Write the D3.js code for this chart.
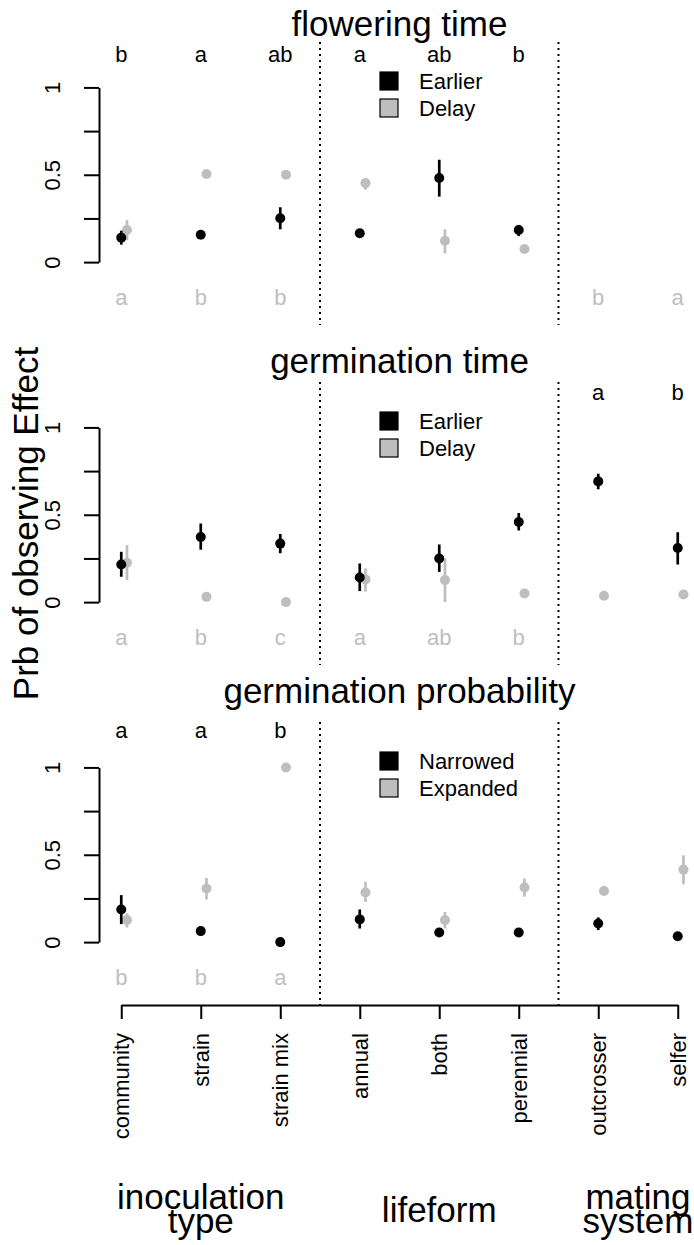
<!DOCTYPE html>
<html>
<head>
<meta charset="utf-8">
<script src="https://d3js.org/d3.v7.min.js"></script>
<style>
body { margin: 0; background: #fff; }
svg { display: block; font-family: "Liberation Sans", Arial, Helvetica, sans-serif; }
</style>
</head>
<body>
<svg id="chart" width="694" height="1245"></svg>
<script>
// categories along the x axis, and the groups they belong to
var categories = ["community", "strain", "strain mix", "annual", "both", "perennial", "outcrosser", "selfer"];
var groupLabels = [["inoculation", "type"], ["lifeform"], ["mating", "system"]];
var groupCenters = [2, 5, 7.5];
var groupBreaks = [3.5, 6.5];

var yTicks = [0, 0.25, 0.5, 0.75, 1];
var yTickLabels = ["0", "", "0.5", "", "1"];

var titles = ["flowering time", "germination time", "germination probability"];
var legendLabels = [["Earlier", "Delay"], ["Earlier", "Delay"], ["Narrowed", "Expanded"]];

// flowering time
var flowerEarlier   = [0.14, 0.157, 0.251, 0.165, 0.481, 0.184, null, null];
var flowerEarlierLo = [0.10, 0.145, 0.188, 0.152, 0.375, 0.149, null, null];
var flowerEarlierHi = [0.18, 0.170, 0.314, 0.178, 0.586, 0.213, null, null];
var flowerDelay     = [0.184, 0.504, 0.50, 0.452, 0.122, 0.075, null, null];
var flowerDelayLo   = [0.126, 0.494, 0.49, 0.414, 0.050, 0.065, null, null];
var flowerDelayHi   = [0.240, 0.514, 0.51, 0.481, 0.188, 0.085, null, null];
var flowerTop    = ["b", "a", "ab", "a", "ab", "b", "", ""];
var flowerBottom = ["a", "b", "b", "", "", "", "b", "a"];

// germination time
var germTimeEarlier   = [0.215, 0.373, 0.335, 0.141, 0.250, 0.459, 0.691, 0.310];
var germTimeEarlierLo = [0.145, 0.300, 0.280, 0.063, 0.173, 0.410, 0.646, 0.215];
var germTimeEarlierHi = [0.288, 0.450, 0.390, 0.221, 0.330, 0.510, 0.735, 0.400];
var germTimeDelay     = [0.225, 0.030, 0.000, 0.130, 0.126, 0.050, 0.036, 0.044];
var germTimeDelayLo   = [0.126, 0.020, 0.000, 0.060, 0.000, 0.040, 0.026, 0.034];
var germTimeDelayHi   = [0.326, 0.040, 0.010, 0.193, 0.250, 0.060, 0.046, 0.054];
var germTimeTop    = ["", "", "", "", "", "", "a", "b"];
var germTimeBottom = ["a", "b", "c", "a", "ab", "b", "", ""];

// germination probability
var germProbNarrowed   = [0.187, 0.063, 0.000, 0.130, 0.055, 0.055, 0.107, 0.034];
var germProbNarrowedLo = [0.103, 0.053, 0.000, 0.078, 0.045, 0.045, 0.069, 0.024];
var germProbNarrowedHi = [0.269, 0.073, 0.010, 0.187, 0.065, 0.065, 0.141, 0.044];
var germProbExpanded   = [0.126, 0.307, 1.000, 0.284, 0.126, 0.313, 0.293, 0.415];
var germProbExpandedLo = [0.084, 0.244, 0.990, 0.230, 0.078, 0.260, 0.283, 0.331];
var germProbExpandedHi = [0.164, 0.367, 1.000, 0.345, 0.173, 0.364, 0.303, 0.497];
var germProbTop    = ["a", "a", "b", "", "", "", "", ""];
var germProbBottom = ["b", "b", "a", "", "", "", "", ""];

var panels = [
  { black: [flowerEarlier, flowerEarlierLo, flowerEarlierHi], gray: [flowerDelay, flowerDelayLo, flowerDelayHi], top: flowerTop, bottom: flowerBottom },
  { black: [germTimeEarlier, germTimeEarlierLo, germTimeEarlierHi], gray: [germTimeDelay, germTimeDelayLo, germTimeDelayHi], top: germTimeTop, bottom: germTimeBottom },
  { black: [germProbNarrowed, germProbNarrowedLo, germProbNarrowedHi], gray: [germProbExpanded, germProbExpandedLo, germProbExpandedHi], top: germProbTop, bottom: germProbBottom }
];

var gray = "#bebebe";
var panelTops = [42, 382, 722], panelH = 283;
var titleY = [36, 373, 703];
var topLetterY = [62, 400, 738];
var bottomLetterY = [305, 645, 985];
var grayShift = 0.072;

var svg = d3.select("#chart");
var x = d3.scaleLinear().domain([0.72, 8.28]).range([99, 700]);

panels.forEach(function(p, k) {
  var top = panelTops[k];
  var y = d3.scaleLinear().domain([-0.36, 1.26]).range([top + panelH, top]);
  var g = svg.append("g");

  g.append("text")
    .attr("x", (x.range()[0] + x.range()[1]) / 2)
    .attr("y", titleY[k])
    .attr("text-anchor", "middle")
    .attr("font-size", 35)
    .text(titles[k]);

  groupBreaks.forEach(function(b) {
    g.append("line")
      .attr("x1", x(b)).attr("x2", x(b))
      .attr("y1", y(1.26)).attr("y2", y(-0.36))
      .attr("stroke", "#000")
      .attr("stroke-width", 2)
      .attr("stroke-dasharray", "2,4");
  });

  // y axis only from 0 to 1
  var ya = y.copy().domain([0, 1]).range([y(0), y(1)]);
  var ax = g.append("g")
    .attr("transform", "translate(" + x.range()[0] + ",0)")
    .call(d3.axisLeft(ya).tickValues(yTicks).tickSize(15).tickSizeOuter(0)
      .tickFormat(function(d, i) { return yTickLabels[i]; }));
  ax.attr("font-size", 22).attr("font-family", null);
  ax.selectAll("path, line").attr("stroke", "#000").attr("stroke-width", 2);
  ax.selectAll("text")
    .attr("x", 0).attr("dy", null)
    .attr("fill", "#000")
    .attr("text-anchor", "middle")
    .attr("transform", "translate(-39,0) rotate(-90)");

  // legend
  legendLabels[k].forEach(function(lab, i) {
    var cy = top + 39 + i * 27;
    g.append("rect")
      .attr("x", 380).attr("y", cy - 9)
      .attr("width", 18).attr("height", 18)
      .attr("fill", i === 0 ? "#000" : gray)
      .attr("stroke", "#000").attr("stroke-width", 1.2);
    g.append("text")
      .attr("x", 419).attr("y", cy)
      .attr("dominant-baseline", "central")
      .attr("font-size", 22)
      .text(lab);
  });

  // letters above (black) and below (gray)
  p.top.forEach(function(l, i) {
    if (!l) return;
    g.append("text").attr("x", x(i + 1)).attr("y", topLetterY[k])
      .attr("text-anchor", "middle").attr("font-size", 22).text(l);
  });
  p.bottom.forEach(function(l, i) {
    if (!l) return;
    g.append("text").attr("x", x(i + 1)).attr("y", bottomLetterY[k])
      .attr("text-anchor", "middle").attr("font-size", 22).attr("fill", gray).text(l);
  });

  // series: gray first, black on top
  [[p.gray, gray, grayShift], [p.black, "#000", 0]].forEach(function(s) {
    var mean = s[0][0], lo = s[0][1], hi = s[0][2], col = s[1], dx = s[2];
    var pts = mean.map(function(v, i) { return { i: i + 1, v: v, lo: lo[i], hi: hi[i] }; })
      .filter(function(d) { return d.v !== null; });
    g.selectAll(null).data(pts).enter().append("line")
      .attr("x1", function(d) { return x(d.i + dx); })
      .attr("x2", function(d) { return x(d.i + dx); })
      .attr("y1", function(d) { return y(d.lo); })
      .attr("y2", function(d) { return y(d.hi); })
      .attr("stroke", col).attr("stroke-width", 2.7);
    g.selectAll(null).data(pts).enter().append("circle")
      .attr("cx", function(d) { return x(d.i + dx); })
      .attr("cy", function(d) { return y(d.v); })
      .attr("r", 5)
      .attr("fill", col);
  });

  if (k === 2) {
    var xa = x.copy().domain([1, 8]).range([x(1), x(8)]);
    var bx = g.append("g")
      .attr("transform", "translate(0," + (top + panelH) + ")")
      .call(d3.axisBottom(xa).tickValues(d3.range(1, 9)).tickSize(14).tickSizeOuter(0)
        .tickFormat(function(d) { return categories[d - 1]; }));
    bx.attr("font-size", 22).attr("font-family", null);
    bx.selectAll("path, line").attr("stroke", "#000").attr("stroke-width", 2);
    bx.selectAll("text")
      .attr("y", 0).attr("dy", null)
      .attr("fill", "#000")
      .attr("text-anchor", "end")
      .attr("dominant-baseline", "central")
      .attr("transform", "translate(0,28) rotate(-90)");
  }
});

// y axis title, centred on the middle panel
svg.append("text")
  .attr("transform", "translate(38," + (panelTops[1] + panelH / 2) + ") rotate(-90)")
  .attr("text-anchor", "middle")
  .attr("font-size", 35)
  .text("Prb of observing Effect");

// group labels under the x axis (tight line spacing as in the original)
groupLabels.forEach(function(lines, i) {
  var t = svg.append("text")
    .attr("text-anchor", "middle")
    .attr("font-size", 35);
  var y0 = lines.length === 1 ? 1222 : 1209;
  lines.forEach(function(s, j) {
    t.append("tspan").attr("x", x(groupCenters[i])).attr("y", y0 + j * 24).text(s);
  });
});
</script>
</body>
</html>
